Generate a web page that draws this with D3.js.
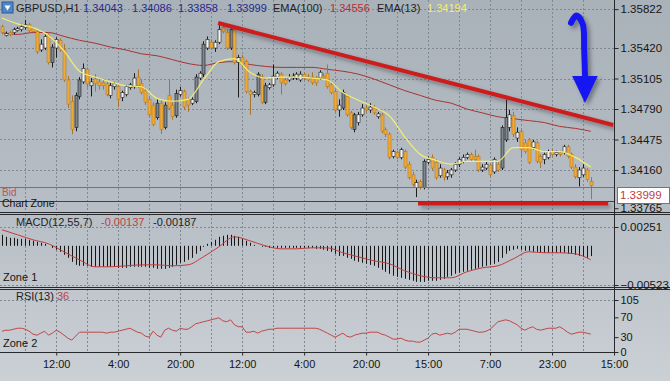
<!DOCTYPE html>
<html lang="en">
<head>
<meta charset="UTF-8">
<title>GBPUSD,H1</title>
<script src="https://cdnjs.cloudflare.com/ajax/libs/d3/7.8.5/d3.min.js"></script>
<style>
body { margin: 0; background: #c3c9cf; }
svg text { font-family: "Liberation Sans", Arial, sans-serif; }
</style>
</head>
<body>
<script>
// hourly candles, one per bar
var openP = [1.3564,1.3555,1.3558,1.3558,1.3560,1.3561,1.3563,1.3566,1.3562,1.3559,
1.3540,1.3542,1.3555,1.3527,1.3542,1.3550,1.3540,1.3509,1.3487,1.3460,
1.3492,1.3507,1.3520,1.3503,1.3510,1.3507,1.3506,1.3505,1.3493,1.3502,
1.3502,1.3491,1.3494,1.3501,1.3502,1.3512,1.3505,1.3498,1.3489,1.3483,
1.3470,1.3485,1.3460,1.3493,1.3483,1.3472,1.3494,1.3497,1.3489,1.3485,
1.3487,1.3511,1.3515,1.3542,1.3548,1.3542,1.3548,1.3563,1.3558,1.3542,
1.3560,1.3527,1.3532,1.3528,1.3497,1.3494,1.3494,1.3512,1.3486,1.3501,
1.3504,1.3512,1.3515,1.3509,1.3509,1.3511,1.3511,1.3509,1.3515,1.3512,
1.3512,1.3511,1.3511,1.3513,1.3516,1.3504,1.3497,1.3478,1.3480,1.3492,
1.3475,1.3458,1.3465,1.3473,1.3480,1.3478,1.3480,1.3471,1.3473,1.3458,
1.3453,1.3430,1.3434,1.3429,1.3435,1.3422,1.3411,1.3398,1.3404,1.3398,
1.3424,1.3429,1.3424,1.3410,1.3416,1.3409,1.3411,1.3416,1.3422,1.3425,
1.3429,1.3432,1.3430,1.3430,1.3416,1.3418,1.3421,1.3414,1.3422,1.3418,
1.3447,1.3460,1.3472,1.3449,1.3456,1.3444,1.3447,1.3439,1.3444,1.3430,
1.3427,1.3429,1.3435,1.3432,1.3434,1.3434,1.3440,1.3432,1.3419,1.3408,
1.3411,1.3416,1.34043];

var highP = [1.3566,1.3559,1.3560,1.3563,1.3564,1.3567,1.3571,1.3568,1.3564,1.3561,
1.3551,1.3556,1.3557,1.3546,1.3553,1.3552,1.3546,1.3513,1.3493,1.3496,
1.3512,1.3526,1.3522,1.3511,1.3515,1.3511,1.3509,1.3507,1.3506,1.3507,
1.3504,1.3498,1.3504,1.3506,1.3516,1.3520,1.3509,1.3501,1.3491,1.3486,
1.3489,1.3489,1.3486,1.3509,1.3486,1.3499,1.3502,1.3499,1.3491,1.3491,
1.3515,1.3518,1.3549,1.3554,1.3551,1.3550,1.3569,1.3565,1.3561,1.3563,
1.3562,1.3535,1.3535,1.3530,1.3499,1.3498,1.3517,1.3515,1.3506,1.3506,
1.3525,1.3518,1.3517,1.3512,1.3515,1.3516,1.3517,1.3518,1.3517,1.3515,
1.3517,1.3513,1.3519,1.3516,1.3525,1.3506,1.3499,1.3489,1.3499,1.3494,
1.3477,1.3475,1.3476,1.3484,1.3483,1.3485,1.3483,1.3476,1.3475,1.3460,
1.3455,1.3437,1.3436,1.3439,1.3437,1.3425,1.3414,1.3406,1.3406,1.3427,
1.3430,1.3432,1.3427,1.3422,1.3418,1.3416,1.3418,1.3424,1.3429,1.3432,
1.3434,1.3434,1.3437,1.3432,1.3422,1.3425,1.3423,1.3429,1.3424,1.3462,
1.3489,1.3478,1.3476,1.3460,1.3458,1.3447,1.3449,1.3447,1.3446,1.3432,
1.3434,1.3437,1.3437,1.3436,1.3436,1.3442,1.3442,1.3434,1.3422,1.3419,
1.3422,1.3418,1.34086];

var lowP = [1.3556,1.3554,1.3554,1.3556,1.3559,1.3559,1.3561,1.3558,1.3557,1.3536,
1.3538,1.3540,1.3525,1.3522,1.3532,1.3538,1.3507,1.3480,1.3453,1.3456,
1.3489,1.3505,1.3501,1.3492,1.3497,1.3499,1.3499,1.3492,1.3490,1.3499,
1.3481,1.3487,1.3492,1.3499,1.3500,1.3501,1.3494,1.3483,1.3471,1.3461,
1.3468,1.3453,1.3458,1.3478,1.3468,1.3470,1.3492,1.3478,1.3476,1.3483,
1.3485,1.3509,1.3512,1.3540,1.3540,1.3538,1.3546,1.3557,1.3540,1.3540,
1.3525,1.3491,1.3522,1.3495,1.3473,1.3491,1.3492,1.3484,1.3484,1.3499,
1.3502,1.3510,1.3494,1.3503,1.3507,1.3509,1.3509,1.3507,1.3509,1.3507,
1.3504,1.3503,1.3509,1.3509,1.3500,1.3494,1.3476,1.3471,1.3478,1.3471,
1.3458,1.3455,1.3462,1.3471,1.3475,1.3475,1.3473,1.3469,1.3454,1.3450,
1.3427,1.3428,1.3427,1.3427,1.3417,1.3406,1.3399,1.3388,1.3396,1.3396,
1.3422,1.3416,1.3406,1.3408,1.3405,1.3406,1.3408,1.3414,1.3419,1.3423,
1.3427,1.3425,1.3425,1.3414,1.3414,1.3416,1.3409,1.3412,1.3414,1.3416,
1.3445,1.3456,1.3450,1.3445,1.3429,1.3433,1.3422,1.3437,1.3423,1.3418,
1.3422,1.3427,1.3430,1.3430,1.3430,1.3432,1.3428,1.3417,1.3407,1.3399,
1.3409,1.3404,1.33858];

var closeP = [1.3558,1.3557,1.3556,1.3561,1.3562,1.3564,1.3566,1.3560,1.3559,1.3538,
1.3546,1.3554,1.3527,1.3543,1.3551,1.3540,1.3509,1.3484,1.3458,1.3493,
1.3509,1.3521,1.3505,1.3507,1.3505,1.3503,1.3503,1.3494,1.3503,1.3505,
1.3489,1.3496,1.3502,1.3504,1.3511,1.3503,1.3496,1.3486,1.3473,1.3463,
1.3485,1.3458,1.3483,1.3480,1.3471,1.3495,1.3498,1.3481,1.3483,1.3489,
1.3512,1.3516,1.3546,1.3551,1.3542,1.3548,1.3561,1.3559,1.3542,1.3561,
1.3527,1.3532,1.3525,1.3497,1.3494,1.3496,1.3515,1.3486,1.3503,1.3504,
1.3513,1.3516,1.3506,1.3505,1.3512,1.3513,1.3515,1.3515,1.3511,1.3509,
1.3506,1.3506,1.3517,1.3511,1.3502,1.3496,1.3478,1.3483,1.3496,1.3473,
1.3460,1.3473,1.3473,1.3480,1.3478,1.3481,1.3475,1.3474,1.3456,1.3453,
1.3429,1.3435,1.3429,1.3437,1.3419,1.3408,1.3401,1.3403,1.3399,1.3425,
1.3427,1.3418,1.3408,1.3418,1.3408,1.3413,1.3416,1.3422,1.3427,1.3429,
1.3432,1.3427,1.3427,1.3416,1.3419,1.3422,1.3411,1.3427,1.3416,1.3460,
1.3470,1.3473,1.3453,1.3455,1.3437,1.3435,1.3424,1.3445,1.3425,1.3424,
1.3432,1.3435,1.3432,1.3434,1.3432,1.3440,1.3430,1.3419,1.3409,1.3416,
1.3418,1.3406,1.33999];

// moving averages, read every 4th bar
var maIdx = d3.range(0, 153, 4);
var ema13 = [1.3573,1.3567,1.3563,1.3555,1.3539,1.3518,1.3512,1.3507,1.3503,1.3502,
1.3490,1.3487,1.3489,1.3509,1.3528,1.3531,1.3517,1.3511,1.3512,1.3512,
1.3511,1.3509,1.3496,1.3488,1.3481,1.3472,1.3450,1.3432,1.3426,1.3422,
1.3425,1.3425,1.3425,1.3439,1.3439,1.3435,1.3435,1.3429,1.3419];
var ema100 = [1.3558,1.3556,1.3558,1.3558,1.3554,1.3550,1.3547,1.3543,1.3540,1.3536,
1.3534,1.3530,1.3526,1.3524,1.3527,1.3528,1.3525,1.3523,1.3522,1.3522,
1.3522,1.3520,1.3518,1.3515,1.3510,1.3504,1.3498,1.3493,1.3488,1.3485,
1.3479,1.3475,1.3471,1.3469,1.3467,1.3465,1.3461,1.3459,1.3456];

// MACD(12,55,7)
var macdHist = [0.00147,0.00120,0.00107,0.00107,0.00093,0.00093,0.00093,0.00080,0.00067,0.00053,
0.00040,0.00027,0.00000,-0.00027,-0.00053,-0.00080,-0.00120,-0.00160,-0.00214,-0.00254,
-0.00267,-0.00267,-0.00267,-0.00280,-0.00280,-0.00280,-0.00280,-0.00280,-0.00280,-0.00280,
-0.00294,-0.00294,-0.00294,-0.00280,-0.00280,-0.00280,-0.00280,-0.00280,-0.00294,-0.00294,
-0.00307,-0.00307,-0.00307,-0.00294,-0.00280,-0.00254,-0.00227,-0.00214,-0.00187,-0.00160,
-0.00107,-0.00067,-0.00013,0.00027,0.00053,0.00080,0.00120,0.00134,0.00147,0.00147,
0.00134,0.00120,0.00093,0.00067,0.00040,0.00013,0.00000,-0.00013,-0.00013,-0.00027,
-0.00027,-0.00027,-0.00027,-0.00027,-0.00027,-0.00027,-0.00027,-0.00027,-0.00027,-0.00027,
-0.00027,-0.00040,-0.00040,-0.00053,-0.00067,-0.00080,-0.00107,-0.00134,-0.00134,-0.00160,
-0.00174,-0.00200,-0.00214,-0.00227,-0.00240,-0.00254,-0.00267,-0.00294,-0.00320,-0.00347,
-0.00374,-0.00400,-0.00414,-0.00427,-0.00440,-0.00454,-0.00467,-0.00481,-0.00481,-0.00481,
-0.00467,-0.00467,-0.00467,-0.00454,-0.00440,-0.00414,-0.00400,-0.00374,-0.00360,-0.00347,
-0.00334,-0.00320,-0.00307,-0.00294,-0.00280,-0.00267,-0.00254,-0.00240,-0.00214,-0.00160,
-0.00107,-0.00067,-0.00053,-0.00040,-0.00053,-0.00067,-0.00067,-0.00080,-0.00080,-0.00093,
-0.00093,-0.00093,-0.00093,-0.00093,-0.00093,-0.00093,-0.00107,-0.00107,-0.00120,-0.00134,
-0.00147,-0.00160,-0.00137];
var macdSignal = [0.00214,0.00147,0.00080,0.00027,-0.00080,-0.00187,-0.00280,-0.00280,-0.00267,-0.00254,
-0.00254,-0.00267,-0.00254,-0.00147,-0.00013,0.00120,0.00067,0.00000,-0.00040,-0.00040,
-0.00027,-0.00027,-0.00093,-0.00147,-0.00200,-0.00240,-0.00334,-0.00400,-0.00427,-0.00427,
-0.00347,-0.00294,-0.00267,-0.00174,-0.00080,-0.00093,-0.00093,-0.00107,-0.00187];

// RSI(13)
var rsi = [42,44,44,46,48,48,46,42,36,34, 38,42,34,38,44,40,34,28,24,32,
40,40,40,40,40,40,40,38,40,40, 42,44,46,48,44,40,38,32,30,42,
34,30,44,48,44,42,48,46,46,51, 57,59,61,63,65,67,69,63,61,65,
55,51,51,40,40,42,38,42,44,46, 46,48,48,48,48,48,48,48,48,48,
48,48,46,42,38,34,30,34,38,32, 30,34,36,38,38,40,40,40,36,34,
30,26,26,28,24,22,22,20,20,24, 28,36,38,34,36,38,36,40,46,46,
46,44,42,40,40,42,46,53,61,63, 65,63,59,55,48,44,48,51,46,44,
46,48,48,48,51,46,40,36,38,40, 40,38,36];

var priceTicks = [1.35822, 1.35420, 1.35105, 1.34790, 1.34475, 1.34160, 1.33765];
var macdTicks = [0.00251, -0.00523];
var rsiTicks = [105, 70, 30, 0];
var timeIdx = [14, 30, 46, 62, 78, 94, 110, 126, 142, 158];
var timeLabels = ["12:00", "4:00", "20:00", "12:00", "4:00", "20:00", "15:00", "7:00", "23:00", "15:00"];

var bid = 1.33999;
var zoneLine = 1.33835;
// drawn objects: [bar index, price]
var trendTop = [[55.8, 1.35678], [157.8, 1.34625]];
var trendBottom = [[107.4, 1.33815], [156.5, 1.33815]];
var arrowShaft = [[146.9, 1.35680], [148.3, 1.35755], [149.9, 1.35670], [150.3, 1.35400], [150.5, 1.35140]];
var arrowHead = [[147.2, 1.35131], [153.8, 1.35131], [150.5, 1.34852]];

var header = [
    {t: "GBPUSD,H1", x: 16, c: "#1e1e24"},
    {t: "1.34043", x: 83, c: "#262a8c"},
    {t: "1.34086", x: 132, c: "#262a8c"},
    {t: "1.33858", x: 178, c: "#262a8c"},
    {t: "1.33999", x: 227, c: "#262a8c"},
    {t: "EMA(100)", x: 273, c: "#1e1e24"},
    {t: "1.34556", x: 330, c: "#b83030"},
    {t: "EMA(13)", x: 377, c: "#1e1e24"},
    {t: "1.34194", x: 427, c: "#f4f060"}
];

var W = 670, H = 381, axisX = 614;
var main = {top: 0, bottom: 212}, mp = {top: 214, bottom: 287}, rp = {top: 289, bottom: 352};

var svg = d3.select("body").append("svg")
    .attr("width", W)
    .attr("height", H);

var defs = svg.append("defs");
var grad = defs.append("linearGradient").attr("id", "bg")
    .attr("x1", 0).attr("y1", 0).attr("x2", 0).attr("y2", 1);
grad.append("stop").attr("offset", "0%").attr("stop-color", "#a9b1b9");
grad.append("stop").attr("offset", "55%").attr("stop-color", "#b7bec5");
grad.append("stop").attr("offset", "100%").attr("stop-color", "#cbd0d5");

// user-space region so flat lines keep their shadow
var shadow = defs.append("filter").attr("id", "shadow")
    .attr("filterUnits", "userSpaceOnUse")
    .attr("x", 0).attr("y", 0).attr("width", W).attr("height", H);
shadow.append("feDropShadow").attr("dx", 3).attr("dy", 3).attr("stdDeviation", 2)
    .attr("flood-color", "#3c444c").attr("flood-opacity", 0.55);

defs.append("clipPath").attr("id", "clipMain").append("rect")
    .attr("x", 0).attr("y", main.top).attr("width", axisX).attr("height", main.bottom - main.top);

svg.append("rect").attr("width", W).attr("height", H).attr("fill", "url(#bg)");

// scales
var x = d3.scaleLinear().domain([0, 158]).range([2, axisX]);
var y = d3.scaleLinear().domain([1.33726, 1.35916]).range([main.bottom, main.top]);
var ym = d3.scaleLinear().domain([-0.00523, 0.00251]).range([285, 227]);
var yr = d3.scaleLinear().domain([0, 105]).range([rp.bottom, 300]);

// vertical grid in every pane
var gridIdx = d3.range(6, 158, 8);
[main, mp, rp].forEach(function(p) {
    svg.append("g").selectAll("line")
        .data(gridIdx)
        .enter().append("line")
        .attr("x1", function(d) { return Math.round(x(d)) + 0.5; })
        .attr("x2", function(d) { return Math.round(x(d)) + 0.5; })
        .attr("y1", p.top)
        .attr("y2", p.bottom)
        .attr("stroke", "#7f8994")
        .attr("stroke-dasharray", "2,2");
});

// horizontal grid
function hgrid(vals, sc) {
    svg.append("g").selectAll("line")
        .data(vals)
        .enter().append("line")
        .attr("x1", 0).attr("x2", axisX)
        .attr("y1", function(d) { return Math.round(sc(d)) + 0.5; })
        .attr("y2", function(d) { return Math.round(sc(d)) + 0.5; })
        .attr("stroke", "#7f8994")
        .attr("stroke-dasharray", "2,2");
}
hgrid(priceTicks.slice(0, 6), y);
hgrid(macdTicks, ym);
hgrid([105], yr);

// main chart
var g = svg.append("g").attr("clip-path", "url(#clipMain)");

var line = d3.line()
    .x(function(d) { return x(d[0]); })
    .y(function(d) { return y(d[1]); });

g.append("path")
    .attr("d", line.curve(d3.curveMonotoneX)(maIdx.map(function(d, i) { return [d, ema100[i]]; })))
    .attr("fill", "none")
    .attr("stroke", "#a63434")
    .attr("stroke-width", 1);

var bars = d3.range(closeP.length);
var bw = 3;

g.append("g").selectAll("line")
    .data(bars)
    .enter().append("line")
    .attr("x1", function(d) { return Math.round(x(d)) + 0.5; })
    .attr("x2", function(d) { return Math.round(x(d)) + 0.5; })
    .attr("y1", function(d) { return y(highP[d]); })
    .attr("y2", function(d) { return y(lowP[d]); })
    .attr("stroke", function(d) { return closeP[d] < openP[d] ? "#a8742e" : "#1c1c1c"; })
    .attr("stroke-width", 1);

g.append("g").selectAll("rect")
    .data(bars)
    .enter().append("rect")
    .attr("x", function(d) { return Math.round(x(d)) - 1; })
    .attr("y", function(d) { return y(Math.max(openP[d], closeP[d])); })
    .attr("width", bw)
    .attr("height", function(d) { return Math.max(1, Math.abs(y(openP[d]) - y(closeP[d]))); })
    .attr("fill", function(d) {
        if (closeP[d] < openP[d]) return "#eeaa36";
        return Math.abs(y(openP[d]) - y(closeP[d])) > 14 ? "#7d878e" : "#f4f4f2";
    })
    .attr("stroke", function(d) { return closeP[d] < openP[d] ? "#b97a22" : "#1c1c1c"; })
    .attr("stroke-width", 0.6);

g.append("path")
    .attr("d", line.curve(d3.curveMonotoneX)(maIdx.map(function(d, i) { return [d, ema13[i]]; })))
    .attr("fill", "none")
    .attr("stroke", "#f2ee6e")
    .attr("stroke-width", 1.2);

// bid and zone lines
g.append("line")
    .attr("x1", 0).attr("x2", axisX)
    .attr("y1", Math.round(y(bid)) + 1.5).attr("y2", Math.round(y(bid)) + 1.5)
    .attr("stroke", "#c05454");
g.append("line")
    .attr("x1", 0).attr("x2", axisX)
    .attr("y1", Math.round(y(zoneLine)) + 0.5).attr("y2", Math.round(y(zoneLine)) + 0.5)
    .attr("stroke", "#48308c");

// trend lines
line.curve(d3.curveLinear);
[trendTop, trendBottom].forEach(function(t) {
    g.append("path")
        .attr("d", line(t))
        .attr("fill", "none")
        .attr("stroke", "#cc1c1c")
        .attr("stroke-width", 4)
        .attr("filter", "url(#shadow)");
});

// arrow
var ar = svg.append("g").attr("filter", "url(#shadow)");
ar.append("path")
    .attr("d", line.curve(d3.curveCatmullRom)(arrowShaft))
    .attr("fill", "none")
    .attr("stroke", "#1414f0")
    .attr("stroke-width", 6)
    .attr("stroke-linecap", "round");
ar.append("path")
    .attr("d", line.curve(d3.curveLinear)(arrowHead) + "Z")
    .attr("fill", "#1414f0");

// pane labels
svg.append("text").attr("x", 2).attr("y", 196).attr("fill", "#c05454")
    .style("font-size", "10px").text("Bid");
svg.append("text").attr("x", 2).attr("y", 207).attr("fill", "#141414")
    .style("font-size", "10.5px").text("Chart Zone");
svg.append("text").attr("x", 3).attr("y", 281).attr("fill", "#141414")
    .style("font-size", "11px").text("Zone 1");
svg.append("text").attr("x", 3).attr("y", 347).attr("fill", "#141414")
    .style("font-size", "11px").text("Zone 2");

// MACD pane
var zero = ym(0);
svg.append("g").selectAll("line")
    .data(bars)
    .enter().append("line")
    .attr("x1", function(d) { return Math.round(x(d)) + 0.5; })
    .attr("x2", function(d) { return Math.round(x(d)) + 0.5; })
    .attr("y1", zero)
    .attr("y2", function(d) { return ym(macdHist[d]); })
    .attr("stroke", "#151515")
    .attr("stroke-width", 1);

svg.append("path")
    .attr("d", d3.line()
        .x(function(d) { return x(d[0]); })
        .y(function(d) { return ym(d[1]); })
        .curve(d3.curveMonotoneX)(maIdx.map(function(d, i) { return [d, macdSignal[i]]; })))
    .attr("fill", "none")
    .attr("stroke", "#c23c3c")
    .attr("stroke-width", 1);

svg.append("text").attr("x", 16).attr("y", 226).attr("fill", "#1e1e24")
    .style("font-size", "11px").text("MACD(12,55,7)");
svg.append("text").attr("x", 101).attr("y", 226).attr("fill", "#c04040")
    .style("font-size", "11px").text("-0.00137");
svg.append("text").attr("x", 153).attr("y", 226).attr("fill", "#1e1e24")
    .style("font-size", "11px").text("-0.00187");

// RSI pane
svg.append("path")
    .attr("d", d3.line()
        .x(function(d, i) { return x(i); })
        .y(function(d) { return yr(d); })(rsi))
    .attr("fill", "none")
    .attr("stroke", "#c04646")
    .attr("stroke-width", 1);

svg.append("text").attr("x", 16).attr("y", 300).attr("fill", "#1e1e24")
    .style("font-size", "11px").text("RSI(13)");
svg.append("text").attr("x", 57).attr("y", 300).attr("fill", "#c04040")
    .style("font-size", "11px").text("36");

// pane frames
var frame = svg.append("g").attr("stroke", "#26282c").attr("fill", "none");
[main.bottom, mp.top, mp.bottom, rp.top].forEach(function(v) {
    frame.append("line").attr("x1", 0).attr("x2", W)
        .attr("y1", v + 0.5).attr("y2", v + 0.5).attr("stroke-width", 1);
});
frame.append("line").attr("x1", 0).attr("x2", axisX + 4)
    .attr("y1", rp.bottom + 0.5).attr("y2", rp.bottom + 0.5);
frame.append("line").attr("x1", axisX + 0.5).attr("x2", axisX + 0.5)
    .attr("y1", 0).attr("y2", rp.bottom + 1);

// axes
function styleAxis(sel, size) {
    sel.select(".domain").remove();
    sel.selectAll(".tick line").attr("stroke", "#26282c");
    sel.selectAll(".tick text")
        .attr("fill", "#161616")
        .style("font-family", "'Liberation Sans', Arial, sans-serif")
        .style("font-size", size);
}

svg.append("g")
    .attr("transform", "translate(" + (axisX + 0.5) + ",0)")
    .call(d3.axisRight(y).tickValues(priceTicks).tickSize(4).tickPadding(2).tickFormat(d3.format(".5f")))
    .call(styleAxis, "11.5px");

svg.append("g")
    .attr("transform", "translate(" + (axisX + 0.5) + ",0)")
    .call(d3.axisRight(ym).tickValues(macdTicks).tickSize(4).tickPadding(2).tickFormat(d3.format(".5f")))
    .call(styleAxis, "11.5px");

svg.append("g")
    .attr("transform", "translate(" + (axisX + 0.5) + ",0)")
    .call(d3.axisRight(yr).tickValues(rsiTicks).tickSize(4).tickPadding(2))
    .call(styleAxis, "11px");

svg.append("g")
    .attr("transform", "translate(0," + (rp.bottom + 0.5) + ")")
    .call(d3.axisBottom(x).tickValues(timeIdx).tickSize(3).tickPadding(5)
        .tickFormat(function(d, i) { return timeLabels[i]; }))
    .call(styleAxis, "11px");

// bid price box
var by = y(bid) + 9;
svg.append("rect")
    .attr("x", axisX + 3.5).attr("y", Math.round(by - 8) + 0.5)
    .attr("width", W - axisX - 4).attr("height", 16)
    .attr("fill", "#ffffff").attr("stroke", "#c05454");
svg.append("text")
    .attr("x", axisX + 6).attr("y", by + 4.5)
    .attr("fill", "#c03c3c")
    .style("font-size", "11.5px")
    .text(d3.format(".5f")(bid));

// header
svg.append("rect").attr("x", 2).attr("y", 2).attr("width", 11).attr("height", 11)
    .attr("fill", "#4f86c8").attr("stroke", "#2c5a96");
svg.append("path").attr("d", "M4.5,5.5 L10.5,5.5 L7.5,10.5 Z").attr("fill", "#ffffff");
svg.append("g").selectAll("text")
    .data(header)
    .enter().append("text")
    .attr("x", function(d) { return d.x; })
    .attr("y", 12)
    .attr("fill", function(d) { return d.c; })
    .style("font-size", "11px")
    .text(function(d) { return d.t; });
</script>
</body>
</html>
